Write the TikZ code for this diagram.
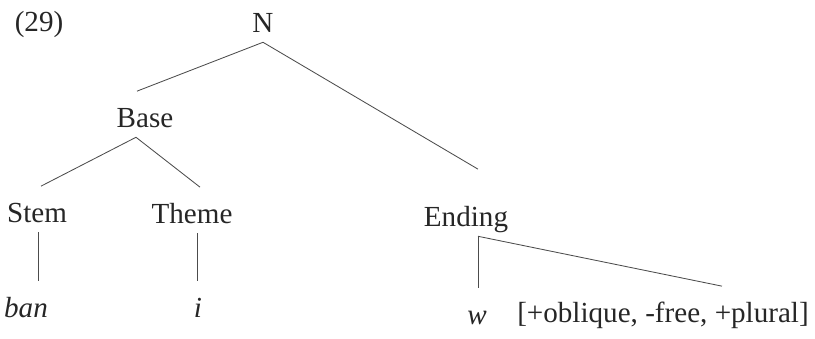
\documentclass[tikz,border=0pt]{standalone}
\usepackage{fontspec}
\setmainfont{Liberation Serif}
\usetikzlibrary{calc}

\begin{document}
\begin{tikzpicture}[x=0.025cm, y=-0.025cm,
  every node/.style={font=\fontsize{20.7}{24}\selectfont, inner sep=0pt,
                     anchor=base, text=black!85},
  cat/.style   ={text height=26pt, text depth=6.4pt},
  leaf/.style  ={cat, font=\fontsize{20.7}{24}\selectfont\itshape},
  branch/.style={draw=black!70, line width=0.6pt}]
\useasboundingbox (0,0) rectangle (815,339);

%% Example number
\node (num) at (39,32) {(29)};

%% Categories
\node[cat] (N)      at (263,33)  {N};
\node[cat] (Base)   at (145,128) {Base};
\node[cat] (Stem)   at (37,223)  {Stem};
\node[cat] (Theme)  at (192,224) {Theme};
\node[cat] (Ending) at (466,227) {Ending};

%% Terminals
\node[leaf] (ban)  at (26,318)  {ban};
\node[leaf] (i)    at (198,318) {i};
\node[leaf] (w)    at (477,325) {w};
\node[cat]  (feat) at (663,323) {[+oblique, -free, +plural]};

%% Branches from N
\draw[branch] (N.south) -- ($(Base.north)+(-8,0)$);
\draw[branch] (N.south) -- ($(Ending.north)+(12,-21)$);

%% Base splits into stem and theme
\draw[branch] ($(Base.south)+(-9,0)$) -- ($(Stem.north)+(4,0)$);
\draw[branch] ($(Base.south)+(-9,0)$) -- ($(Theme.north)+(8,0)$);

%% Vertical lines down to the forms
\draw[branch] ($(Stem.south)+(1,0)$)  -- ($(ban.north)+(12,0)$);
\draw[branch] ($(Theme.south)+(5,0)$) -- ($(i.north)+(-1,0)$);

%% Ending: form and features
\draw[branch] ($(Ending.south)+(12,0)$) -- ($(w.north)+(1,0)$);
\draw[branch] ($(Ending.south)+(12,0)$) -- ($(feat.north)+(59,0)$);
\end{tikzpicture}
\end{document}
